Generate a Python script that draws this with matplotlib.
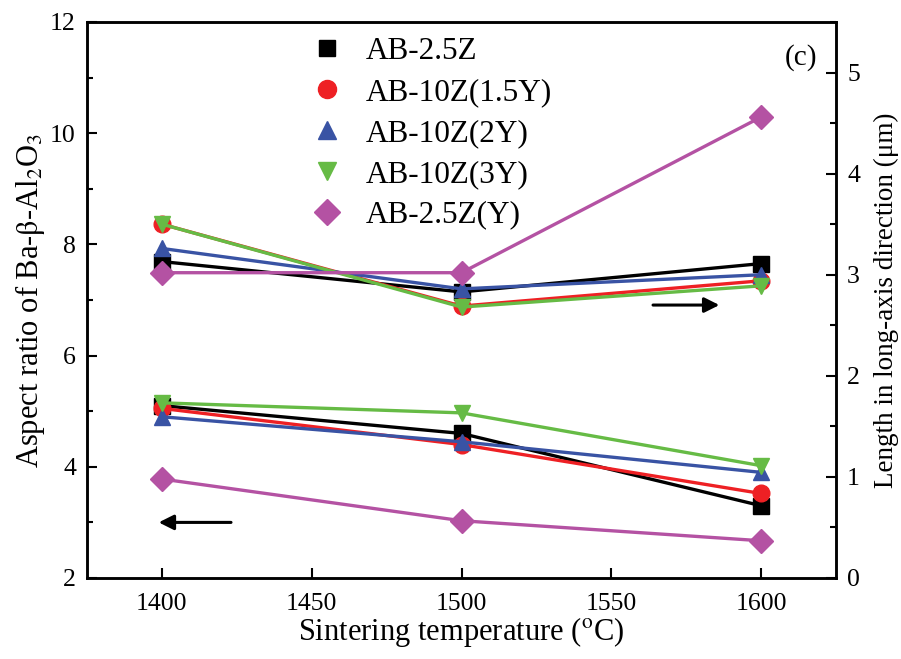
import matplotlib
matplotlib.use("Agg")
import matplotlib.pyplot as plt
from matplotlib.lines import Line2D
from matplotlib.ticker import MultipleLocator

plt.rcParams['font.family'] = ['Liberation Serif', 'DejaVu Serif']
plt.rcParams['mathtext.fontset'] = 'stix'

temps = [1400, 1500, 1600]
labels = ["AB-2.5Z", "AB-10Z(1.5Y)", "AB-10Z(2Y)", "AB-10Z(3Y)", "AB-2.5Z(Y)"]
colors = ["#000000", "#ee2024", "#3953a4", "#66bb45", "#b452a3"]
markers = ["s", "o", "^", "v", "D"]

# Aspect ratio (left axis)
aspect_25Z = [5.10, 4.60, 3.30]
aspect_10Z15Y = [5.05, 4.40, 3.52]
aspect_10Z2Y = [4.90, 4.45, 3.90]
aspect_10Z3Y = [5.15, 4.97, 4.02]
aspect_25ZY = [3.78, 3.03, 2.67]

# Length in long-axis direction (right axis, um)
length_25Z = [3.13, 2.83, 3.11]
length_10Z15Y = [3.50, 2.69, 2.94]
length_10Z2Y = [3.26, 2.86, 3.00]
length_10Z3Y = [3.50, 2.68, 2.89]
length_25ZY = [3.02, 3.02, 4.56]

aspects = [aspect_25Z, aspect_10Z15Y, aspect_10Z2Y, aspect_10Z3Y, aspect_25ZY]
lengths = [length_25Z, length_10Z15Y, length_10Z2Y, length_10Z3Y, length_25ZY]
msizes = [11, 12, 12, 12, 12]

fig = plt.figure(figsize=(9.01, 6.59), dpi=100)
ax = fig.add_axes([87/901, 1-578/659, (836-87)/901, (578-22)/659])
ax2 = ax.twinx()

for a, l, c, m, ms in zip(aspects, lengths, colors, markers, msizes):
    ax.plot(temps, a, color=c, marker=m, ms=ms, lw=2.4, mec=c)
    ax2.plot(temps, l, color=c, marker=m, ms=ms, lw=2.4, mec=c)

ax.set_xlim(1375, 1625)
ax.set_ylim(2, 12)
ax2.set_ylim(0, 5.5)
ax.set_xticks([1400, 1450, 1500, 1550, 1600])
ax.set_yticks([2, 4, 6, 8, 10, 12])
ax.yaxis.set_minor_locator(MultipleLocator(1))
ax2.set_yticks([0, 1, 2, 3, 4, 5])
ax2.yaxis.set_minor_locator(MultipleLocator(0.5))

fs = 18.5
ax.tick_params(axis='both', which='major', direction='in', length=7, width=1.5, labelsize=fs)
ax.tick_params(axis='y', which='minor', direction='in', length=4, width=1.5)
ax.tick_params(axis='x', pad=11)
ax.tick_params(axis='y', pad=8)
ax2.tick_params(axis='y', which='major', direction='in', length=7, width=1.5, labelsize=fs, pad=8)
ax2.tick_params(axis='y', which='minor', direction='in', length=4, width=1.5)
for sp in ax.spines.values():
    sp.set_linewidth(1.8)
for sp in ax2.spines.values():
    sp.set_linewidth(1.8)

ax.set_xlabel(r"Sintering temperature ($^{\mathrm{o}}$C)", fontsize=22, labelpad=0)
ax.set_ylabel(r"Aspect ratio of Ba-$\mathrm{\beta}$-Al$_{2}$O$_{3}$", fontsize=22, labelpad=2)
ax2.set_ylabel("Length in long-axis direction (μm)", fontsize=19.5, labelpad=10)

ax.text(0.975, 0.96, "(c)", transform=ax.transAxes, ha='right', va='top', fontsize=21)

ax.annotate("", xy=(1398, 3.0), xytext=(1424, 3.0),
            arrowprops=dict(arrowstyle="-|>,head_length=0.9,head_width=0.45", color='black', lw=2.2))
ax2.annotate("", xy=(1587, 2.70), xytext=(1563, 2.70),
             arrowprops=dict(arrowstyle="-|>,head_length=0.9,head_width=0.45", color='black', lw=2.2))

handles = [Line2D([], [], color=c, marker=m, ls='none', ms=ms + 1, mec=c)
           for c, m, ms in zip(colors, markers, msizes)]
ax.legend(handles, labels, loc='upper left', bbox_to_anchor=(0.27, 1.012), frameon=False,
          fontsize=22.5, handlelength=1.0, handletextpad=0.75, labelspacing=0.38, borderaxespad=0.3)

fig.savefig("out.png", dpi=100)
